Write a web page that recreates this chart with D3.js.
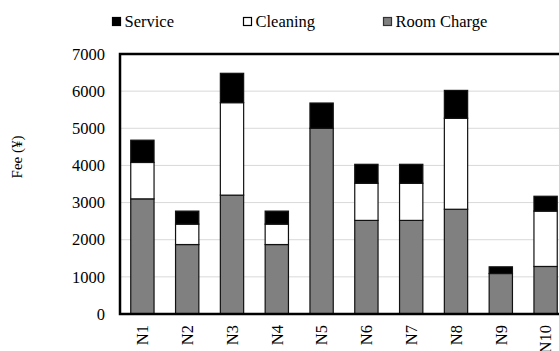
<!DOCTYPE html>
<html>
<head>
<meta charset="utf-8">
<script src="https://cdn.jsdelivr.net/npm/d3@7"></script>
<style>
  html, body { margin: 0; padding: 0; background: #fff; }
  svg { display: block; }
  svg text { font-family: "Liberation Serif", "DejaVu Serif", serif; fill: #000; }
</style>
</head>
<body>
<svg id="chart" width="559" height="351"></svg>
<script>
// Fee breakdown per room
const categories = ["N1", "N2", "N3", "N4", "N5", "N6", "N7", "N8", "N9", "N10"];
const roomCharge = [3100, 1870, 3200, 1870, 5000, 2520, 2520, 2820, 1090, 1280];
const cleaning   = [980, 550, 2490, 550, 0, 1000, 1000, 2450, 0, 1490];
const service    = [600, 350, 790, 350, 680, 510, 510, 750, 180, 400];
const yTicks = [0, 1000, 2000, 3000, 4000, 5000, 6000, 7000];

const seriesNames = ["Room Charge", "Cleaning", "Service"];
const fills = { "Room Charge": "#808080", "Cleaning": "#ffffff", "Service": "#000000" };

const rows = categories.map((c, i) => ({
  cat: c,
  "Room Charge": roomCharge[i],
  "Cleaning": cleaning[i],
  "Service": service[i]
}));

const svg = d3.select("#chart");
const plotLeft = 120, plotTop = 54, plotBottom = 314;
const step = 44.8;
const plotRight = plotLeft + categories.length * step;

const x = d3.scaleBand()
  .domain(categories)
  .range([plotLeft, plotRight])
  .paddingInner(0.48)
  .paddingOuter(0.24);

const y = d3.scaleLinear().domain([0, 7000]).range([plotBottom, plotTop]);

// gridlines
svg.append("g")
  .selectAll("line")
  .data(yTicks.slice(1))
  .join("line")
  .attr("x1", plotLeft).attr("x2", plotRight)
  .attr("y1", d => y(d)).attr("y2", d => y(d))
  .attr("stroke", "#d9d9d9")
  .attr("stroke-width", 1);

// stacked bars
const stack = d3.stack().keys(seriesNames);
const layers = stack(rows);

svg.append("g")
  .selectAll("g")
  .data(layers)
  .join("g")
  .attr("fill", d => fills[d.key])
  .selectAll("rect")
  .data(d => d.filter(s => s[1] - s[0] > 0))
  .join("rect")
  .attr("x", d => x(d.data.cat))
  .attr("width", x.bandwidth())
  .attr("y", d => y(d[1]))
  .attr("height", d => y(d[0]) - y(d[1]))
  .attr("stroke", "#111")
  .attr("stroke-width", 1.2);

// frame: left, top, bottom
svg.append("path")
  .attr("d", `M${plotRight},${plotTop}H${plotLeft}V${plotBottom}H${plotRight}`)
  .attr("fill", "none")
  .attr("stroke", "#000")
  .attr("stroke-width", 2.5);

// y axis labels
const yAxis = d3.axisLeft(y).tickValues(yTicks).tickFormat(d3.format("d")).tickSize(0).tickPadding(15);
const yg = svg.append("g").attr("transform", `translate(${plotLeft},0)`).call(yAxis);
yg.select(".domain").remove();
yg.attr("font-family", null);
yg.selectAll("text").attr("font-size", 16.5);

// x axis labels (rotated)
const xAxis = d3.axisBottom(x).tickSize(0);
const xg = svg.append("g").attr("transform", `translate(0,${plotBottom})`).call(xAxis);
xg.select(".domain").remove();
xg.attr("font-family", null);
xg.selectAll("text")
  .attr("font-size", 16.5)
  .attr("transform", "rotate(-90)")
  .attr("text-anchor", "end")
  .attr("dy", "0.35em")
  .attr("x", -11)
  .attr("y", 0);

// y axis title
svg.append("text")
  .attr("transform", "translate(22,157) rotate(-90)")
  .attr("text-anchor", "middle")
  .attr("font-size", 15)
  .text("Fee (¥)");

// legend
const legendItems = [
  { name: "Service", x: 112, stroke: "#000" },
  { name: "Cleaning", x: 243, stroke: "#000" },
  { name: "Room Charge", x: 383, stroke: "#333" }
];
const lg = svg.append("g");
const li = lg.selectAll("g").data(legendItems).join("g")
  .attr("transform", d => `translate(${d.x},17)`);
li.append("rect")
  .attr("x", 0.5).attr("y", 0.5)
  .attr("width", 8).attr("height", 8)
  .attr("fill", d => fills[d.name])
  .attr("stroke", d => d.stroke)
  .attr("stroke-width", 1.2);
li.append("text")
  .attr("x", 12.5)
  .attr("y", 9.5)
  .attr("font-size", 16.5)
  .text(d => d.name);
</script>
</body>
</html>
